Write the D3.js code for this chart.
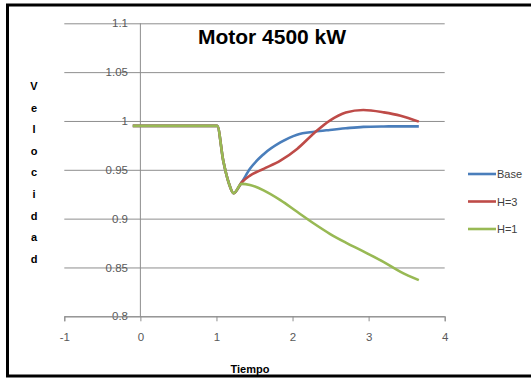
<!DOCTYPE html>
<html>
<head>
<meta charset="utf-8">
<script src="https://cdn.jsdelivr.net/npm/d3@7"></script>
<style>
  body { margin: 0; background: #fff; }
  svg { display: block; font-family: "Liberation Sans", Arial, sans-serif; }
</style>
</head>
<body>
<div id="chart"></div>
<script>
// values
const tiempo = [-0.1, 1.01, 1.09, 1.16, 1.225, 1.33, 1.44, 1.62, 1.84, 2.06, 2.29, 2.49, 2.7, 2.93, 3.2, 3.42, 3.66]
const base = [0.995, 0.995, 0.959, 0.937, 0.926, 0.937, 0.951, 0.966, 0.978, 0.986, 0.989, 0.9908, 0.9925, 0.994, 0.9944, 0.9945, 0.9945]
const h3 = [0.995, 0.995, 0.959, 0.937, 0.926, 0.937, 0.944, 0.951, 0.9594, 0.9714, 0.988, 1.0003, 1.0086, 1.0112, 1.0088, 1.0054, 0.9993]
const h1 = [0.995, 0.995, 0.959, 0.937, 0.926, 0.9356, 0.9345, 0.929, 0.919, 0.907, 0.8945, 0.8845, 0.8755, 0.8665, 0.8555, 0.8455, 0.837]
const seriesNames = ["Base", "H=3", "H=1"]
const seriesColors = ["#4a7ebb", "#be4b48", "#98b954"]
const xTicks = [-1, 0, 1, 2, 3, 4]
const yTicks = [0.8, 0.85, 0.9, 0.95, 1, 1.05, 1.1]

const W = 531, H = 378
const svg = d3.select("#chart").append("svg").attr("width", W).attr("height", H)

// outer frame
svg.append("rect")
  .attr("x", 7.5).attr("y", 5).attr("width", 540).attr("height", 371)
  .attr("fill", "#fff").attr("stroke", "#000").attr("stroke-width", 3)

const x = d3.scaleLinear().domain([-1, 4]).range([64.3, 444.7])
const y = d3.scaleLinear().domain([0.8, 1.1]).range([316.3, 23.3])

// horizontal gridlines
const grid = svg.append("g")
  .attr("transform", `translate(${x(-1)},0)`)
  .call(d3.axisLeft(y).tickValues(yTicks).tickSize(-(x(4) - x(-1))).tickFormat(""))
grid.select(".domain").remove()
grid.selectAll("line").attr("stroke", "#8e8e8e")

// y labels sit next to the value axis at x = 0
const yLab = svg.append("g")
  .attr("transform", `translate(131,0)`)
  .call(d3.axisLeft(y).tickValues(yTicks).tickSize(0).tickPadding(3)
    .tickFormat((d) => String(+d.toFixed(2))))
yLab.select(".domain").remove()
yLab.selectAll("text").attr("fill", "#595959").style("font-size", "11.5px")
  .style("font-family", "Liberation Sans, Arial, sans-serif")

// vertical axis line at x = 0
svg.append("line")
  .attr("x1", x(0)).attr("x2", x(0)).attr("y1", y(0.8)).attr("y2", y(1.1))
  .attr("stroke", "#8e8e8e")

// x axis
const xAxis = svg.append("g")
  .attr("transform", `translate(0,${y(0.8)})`)
  .call(d3.axisBottom(x).tickValues(xTicks).tickSize(5).tickPadding(12).tickFormat((d) => String(d)))
xAxis.select(".domain").attr("stroke", "#8e8e8e")
xAxis.selectAll("line").attr("stroke", "#8e8e8e")
xAxis.selectAll("text").attr("fill", "#595959").style("font-size", "11.5px")
  .style("font-family", "Liberation Sans, Arial, sans-serif")

// series
const line = d3.line()
  .x((d) => x(d[0]))
  .y((d) => y(d[1]))
  .curve(d3.curveMonotoneX)

;[base, h3, h1].forEach((vals, i) => {
  svg.append("path")
    .datum(tiempo.map((t, j) => [t, vals[j]]))
    .attr("d", line)
    .attr("fill", "none")
    .attr("stroke", seriesColors[i])
    .attr("stroke-width", 2.6)
    .attr("stroke-linejoin", "round")
})

// legend
const legendY = [174, 201.5, 229]
seriesNames.forEach((name, i) => {
  svg.append("line")
    .attr("x1", 468).attr("x2", 496)
    .attr("y1", legendY[i]).attr("y2", legendY[i])
    .attr("stroke", seriesColors[i]).attr("stroke-width", 2.6)
  svg.append("text")
    .attr("x", 497).attr("y", legendY[i] + 4)
    .attr("fill", "#404040").style("font-size", "11px")
    .text(name)
})

// title
svg.append("text")
  .attr("x", 272).attr("y", 44)
  .attr("text-anchor", "middle")
  .style("font-size", "21px").style("font-weight", "bold")
  .attr("fill", "#000")
  .text("Motor 4500 kW")

// y title, one letter per line
"Velocidad".split("").forEach((ch, i) => {
  svg.append("text")
    .attr("x", 34).attr("y", 86 + i * 21.6 + 4)
    .attr("text-anchor", "middle")
    .style("font-size", "11px").style("font-weight", "bold")
    .text(ch)
})

// x title
svg.append("text")
  .attr("x", 250).attr("y", 373)
  .attr("text-anchor", "middle")
  .style("font-size", "11px").style("font-weight", "bold")
  .text("Tiempo")
</script>
</body>
</html>
